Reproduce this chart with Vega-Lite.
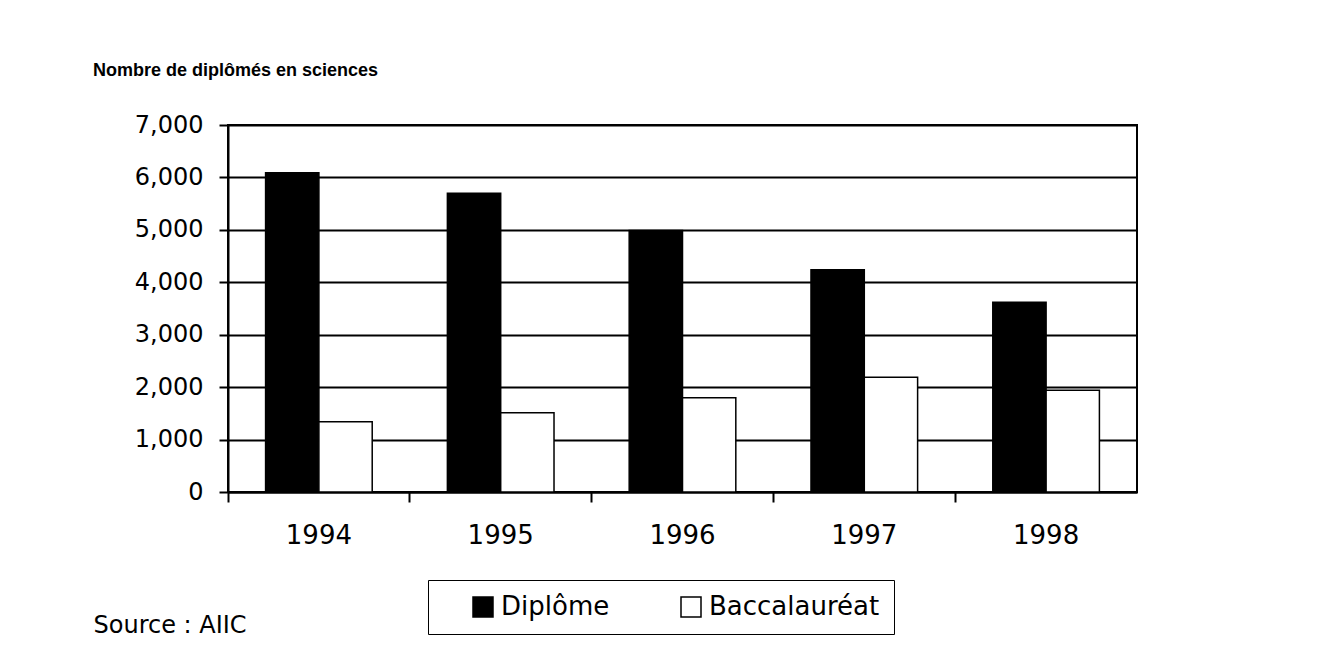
{
  "$schema": "https://vega.github.io/schema/vega-lite/v6.json",
  "autosize": {"type": "none"},
  "width": 909,
  "height": 367,
  "padding": {"left": 228, "top": 125, "right": 183, "bottom": 164},
  "background": "white",
  "title": {
    "text": "Nombre de diplômés en sciences",
    "anchor": "start",
    "frame": "group",
    "font": "Liberation Sans",
    "fontSize": 18,
    "fontWeight": "bold",
    "color": "black",
    "baseline": "alphabetic",
    "offset": 40,
    "dx": -135,
    "dy": 21
  },
  "data": {
    "values": [
      {"annee": "1994", "type": "Diplôme", "n": 6090},
      {"annee": "1994", "type": "Baccalauréat", "n": 1340},
      {"annee": "1995", "type": "Diplôme", "n": 5700},
      {"annee": "1995", "type": "Baccalauréat", "n": 1510},
      {"annee": "1996", "type": "Diplôme", "n": 4990},
      {"annee": "1996", "type": "Baccalauréat", "n": 1800},
      {"annee": "1997", "type": "Diplôme", "n": 4240},
      {"annee": "1997", "type": "Baccalauréat", "n": 2190},
      {"annee": "1998", "type": "Diplôme", "n": 3620},
      {"annee": "1998", "type": "Baccalauréat", "n": 1940}
    ]
  },
  "mark": {"type": "bar", "stroke": "black", "strokeWidth": 1.5},
  "encoding": {
    "x": {
      "field": "annee",
      "type": "nominal",
      "scale": {"paddingInner": 0, "paddingOuter": 0},
      "axis": {
        "title": "Source : AIIC",
        "titleFont": "DejaVu Sans",
        "titleFontSize": 24,
        "titleFontWeight": "normal",
        "titleColor": "black",
        "titleAnchor": "start",
        "titleAlign": "left",
        "titleBaseline": "alphabetic",
        "titleX": -135,
        "titleY": 140,
        "labelAngle": 0,
        "labelFont": "DejaVu Sans",
        "labelFontSize": 26,
        "labelColor": "black",
        "labelPadding": 20,
        "labelOffset": 0,
        "bandPosition": 0,
        "tickSize": 10,
        "tickColor": "black",
        "tickWidth": 2,
        "domainColor": "black",
        "domainWidth": 2,
        "grid": false
      }
    },
    "xOffset": {
      "field": "type",
      "type": "nominal",
      "sort": ["Diplôme", "Baccalauréat"],
      "scale": {"paddingInner": 0, "paddingOuter": 0.705}
    },
    "y": {
      "field": "n",
      "type": "quantitative",
      "scale": {"domain": [0, 7000], "nice": false},
      "axis": {
        "title": null,
        "values": [0, 1000, 2000, 3000, 4000, 5000, 6000, 7000],
        "format": ",d",
        "labelFont": "DejaVu Sans",
        "labelFontSize": 24,
        "labelColor": "black",
        "labelPadding": 16,
        "tickSize": 9,
        "tickColor": "black",
        "tickWidth": 2,
        "domainColor": "black",
        "domainWidth": 2,
        "grid": true,
        "gridColor": "black",
        "gridWidth": 2,
        "gridOpacity": 1,
        "zindex": 0
      }
    },
    "fill": {
      "field": "type",
      "type": "nominal",
      "sort": ["Diplôme", "Baccalauréat"],
      "scale": {"domain": ["Diplôme", "Baccalauréat"], "range": ["black", "white"]},
      "legend": {
        "title": null,
        "orient": "none",
        "legendX": 200,
        "legendY": 455,
        "direction": "horizontal",
        "strokeColor": "black",
        "fillColor": "white",
        "padding": 14,
        "symbolType": "square",
        "symbolSize": 400,
        "symbolStrokeColor": "black",
        "symbolStrokeWidth": 1.5,
        "symbolOffset": 28,
        "labelFont": "DejaVu Sans",
        "labelFontSize": 26,
        "labelColor": "black",
        "labelOffset": 5,
        "columnPadding": 40,
        "labelLimit": 300
      }
    }
  },
  "config": {
    "view": {"stroke": "black", "strokeWidth": 2}
  }
}
